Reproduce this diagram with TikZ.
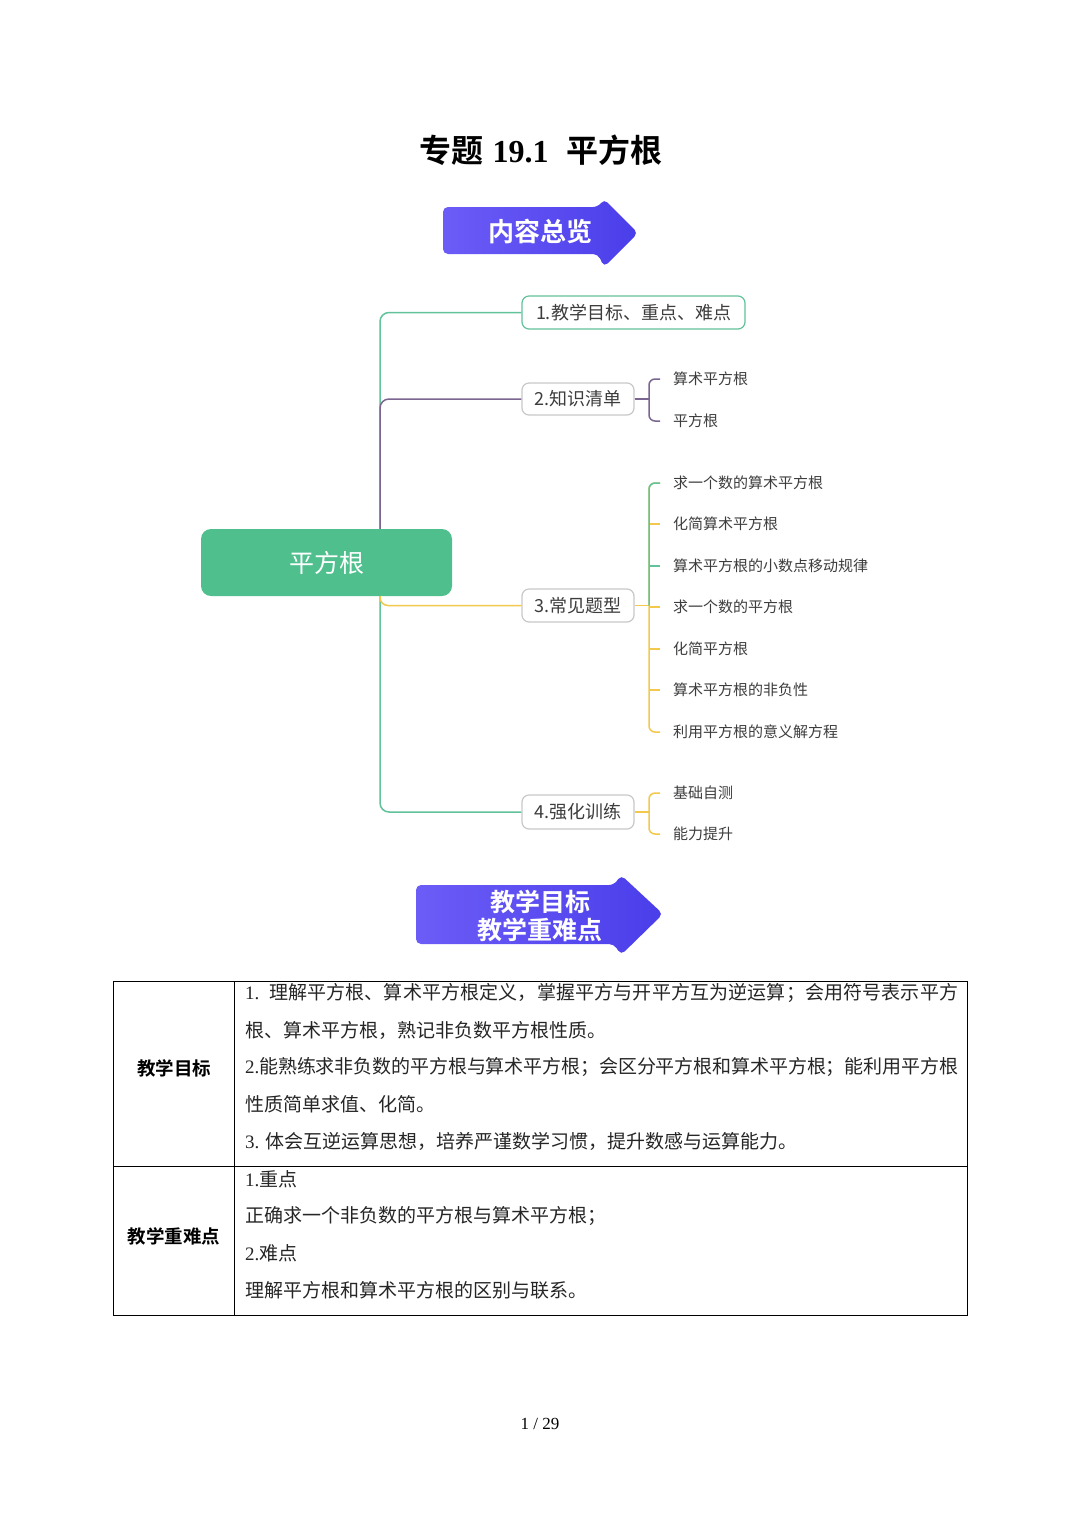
\documentclass[tikz,border=0pt]{standalone}
\usepackage{fontspec}
\setmainfont{Liberation Serif}
\newfontfamily\lat{Liberation Serif}
\newfontfamily\cjk{Noto Sans CJK SC}
\newfontfamily\cjkb{Noto Sans CJK SC Bold}
\usetikzlibrary{calc}
\definecolor{mgreen}{HTML}{62C39B}
\definecolor{mpurp}{HTML}{7B6591}
\definecolor{myel}{HTML}{F2C94C}
\definecolor{ngray}{HTML}{C8C8C8}
\definecolor{rootg}{HTML}{4FC08D}
\definecolor{txt}{HTML}{3D3D3D}
\definecolor{banl}{HTML}{6C5CF7}
\definecolor{banr}{HTML}{4A3EEA}
\makeatletter
\newcommand\spreadto[2]{\hbox to #1{\@tfor\sp@ch:=#2\do{\sp@ch\hskip 0pt plus 1fil minus 1pt}\unskip}}
\makeatother
\tikzset{
  topic/.style={draw=ngray, line width=1.2pt, rounded corners=7, fill=white, text=txt,
    font=\cjk\fontsize{18}{18}\selectfont, inner xsep=0pt, inner ysep=0pt, minimum height=33pt},
  leaf/.style={anchor=west, inner sep=0pt, text=txt, font=\cjk\fontsize{15}{15}\selectfont},
  conn/.style={line width=1.5pt, rounded corners=9},
  tick/.style={line width=1.5pt, rounded corners=6},
  banner/.style={left color=banl, right color=banr, rounded corners=5},
  bantext/.style={text=white, font=\cjkb\fontsize{25}{28}\selectfont, align=center},
  tline/.style={anchor=west, inner sep=0pt, text=black!85, font=\cjk\fontsize{19}{19}\selectfont},
  tlab/.style={inner sep=0pt, text=black, font=\cjkb\fontsize{18.5}{18.5}\selectfont},
}
\begin{document}
\begin{tikzpicture}[x=1pt,y=-1pt]
\useasboundingbox (0,0) rectangle (1080,1527);
\fill[white] (0,0) rectangle (1080,1527);

% title
\node (title) at (541,150) {\fontsize{32}{32}\selectfont\cjkb 专题\hspace{9pt}{\lat\bfseries 19.1}\hspace{18pt}平方根};

% banner 1
\path[banner] (443,207) -- (598,207) -- (604,199) -- (638,233) -- (604,267) -- (598,254) -- (443,254) -- cycle;
\node[bantext, font=\cjkb\fontsize{26}{26}\selectfont] (ban1) at (540,231) {内容总览};

% mind map
\node[fill=rootg, rounded corners=10, minimum width=251pt, minimum height=67pt, inner sep=0pt,
      text=white, font=\cjk\fontsize{25}{25}\selectfont] (root) at (326.5,562.5) {平方根};
\coordinate (trunk) at (380,562.5);

\node[topic, draw=mgreen, minimum width=223pt] (n1) at (633.5,312.5) {1.教学目标、重点、难点};
\node[topic, minimum width=112pt, minimum height=32pt] (n2) at (578,399) {2.知识清单};
\node[topic, minimum width=112pt] (n3) at (578,605.5) {3.常见题型};
\node[topic, minimum width=112pt, minimum height=34pt] (n4) at (578,812) {4.强化训练};

\draw[conn, mgreen] (root.north -| trunk) |- (n1.west);
\draw[conn, mpurp] (root.north -| trunk) |- (n2.west);
\draw[conn, mgreen] (root.south -| trunk) |- (n4.west);
\draw[conn, myel, rounded corners=8] (root.south -| trunk) |- (n3.west);

% leaves of 2
\node[leaf] (l21) at (673,379) {算术平方根};
\node[leaf] (l22) at (673,421) {平方根};
\coordinate (b2) at (649,399);
\draw[tick, mpurp] (n2.east) -- (b2);
\draw[tick, mpurp] ([xshift=-13pt]l21.west) -| (b2) |- ([xshift=-13pt]l22.west);

% leaves of 3
\node[leaf] (l31) at (673,483) {求一个数的算术平方根};
\node[leaf] (l32) at (673,524) {化简算术平方根};
\node[leaf] (l33) at (673,566) {算术平方根的小数点移动规律};
\node[leaf] (l34) at (673,607) {求一个数的平方根};
\node[leaf] (l35) at (673,649) {化简平方根};
\node[leaf] (l36) at (673,690) {算术平方根的非负性};
\node[leaf] (l37) at (673,732) {利用平方根的意义解方程};
\coordinate (b3) at (649,605.5);
\draw[tick, myel] (n3.east) -- (b3);
\draw[tick, myel] ([xshift=-13pt]l31.west) -| (b3) |- ([xshift=-13pt]l37.west);
\foreach \k in {2,4,5,6} {
  \draw[tick, myel] (b3 |- l3\k.west) -- ([xshift=-13pt]l3\k.west);
}
\draw[tick, mgreen] ([xshift=-13pt]l31.west) -| (b3);
\draw[tick, mgreen] (b3 |- l33.west) -- ([xshift=-13pt]l33.west);

% leaves of 4
\node[leaf] (l41) at (673,793) {基础自测};
\node[leaf] (l42) at (673,834) {能力提升};
\coordinate (b4) at (649,812);
\draw[tick, myel] (n4.east) -- (b4);
\draw[tick, myel] ([xshift=-13pt]l41.west) -| (b4) |- ([xshift=-13pt]l42.west);

% banner 2
\path[banner] (416,885) -- (614,885) -- (621,875) -- (663,914) -- (621,955) -- (614,944) -- (416,944) -- cycle;
\node[bantext] (ban2) at (540,916) {教学目标\\教学重难点};

% table
\draw[line width=1pt] (113,981) rectangle (967,1315);
\draw[line width=1pt] (234,981) -- (234,1315);
\draw[line width=1pt] (113,1166) -- (967,1166);

\node[tlab] (lab1) at (174,1068) {教学目标};
\node[tlab] (lab2) at (174,1236) {教学重难点};

\node[tline] (r1) at (245,993) {\spreadto{713pt}{{{\lat 1.\ \ }}理解平方根、算术平方根定义，掌握平方与开平方互为逆运算；会用符号表示平方}};
\node[tline] (r2) at (245,1030) {根、算术平方根，熟记非负数平方根性质。};
\node[tline] (r3) at (245,1067) {\spreadto{713pt}{{{\lat 2.}}能熟练求非负数的平方根与算术平方根；会区分平方根和算术平方根；能利用平方根}};
\node[tline] (r4) at (245,1104) {性质简单求值、化简。};
\node[tline] (r5) at (245,1141) {{\lat 3. }体会互逆运算思想，培养严谨数学习惯，提升数感与运算能力。};

\node[tline] (s1) at (245,1179) {{\lat 1.}重点};
\node[tline] (s2) at (245,1216) {正确求一个非负数的平方根与算术平方根；};
\node[tline] (s3) at (245,1253) {{\lat 2.}难点};
\node[tline] (s4) at (245,1290) {理解平方根和算术平方根的区别与联系。};

% page number
\node (pg) at (540,1424) {\fontsize{17}{17}\selectfont 1 / 29};
\end{tikzpicture}
\end{document}
